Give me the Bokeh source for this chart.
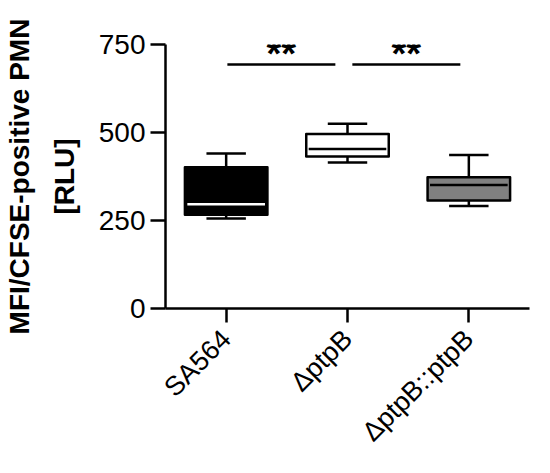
from math import pi
from bokeh.plotting import figure
from bokeh.models import Range1d, FixedTicker, ColumnDataSource
from bokeh.embed import file_html
from bokeh.resources import INLINE

categories = ["SA564", "ΔptpB", "ΔptpB::ptpB"]
whisker_low = [256, 415, 291]
q1 = [266, 432, 307]
median = [296, 453, 351]
q3 = [401, 496, 373]
whisker_high = [440, 525, 436]
box_colors = ["#000000", "#ffffff", "#808080"]
median_colors = ["#ffffff", "#000000", "#000000"]

# significance brackets: (start, end) in category index units, height, label
sig_x0 = [0.01, 1.04]
sig_x1 = [0.90, 1.93]
sig_y = [693, 693]
sig_label = ["**", "**"]
sig_label_x = [0.455, 1.485]
sig_label_y = [722, 722]

yticks = [0, 250, 500, 750]

xs = list(range(len(categories)))

p = figure(width=534, height=462, output_backend="svg", toolbar_location=None,
           x_range=Range1d(-0.5, 2.5), y_range=Range1d(0, 750),
           min_border_left=156, min_border_right=5, min_border_top=44,
           min_border_bottom=154)
p.outline_line_color = None
p.xgrid.visible = False
p.ygrid.visible = False
p.background_fill_color = "white"
p.border_fill_color = "white"

FONT = "Liberation Sans"

# Y axis
p.yaxis.ticker = FixedTicker(ticks=yticks)
p.yaxis.axis_line_width = 2.5
p.yaxis.major_tick_line_width = 2.5
p.yaxis.major_tick_out = 15
p.yaxis.major_tick_in = 0
p.yaxis.minor_tick_line_color = None
p.yaxis.major_label_text_font = FONT
p.yaxis.major_label_text_font_size = "28px"
p.yaxis.major_label_text_color = "black"
p.yaxis.major_label_standoff = 5
p.yaxis.axis_label = "MFI/CFSE-positive PMN\n[RLU]"
p.yaxis.axis_label_text_font = FONT
p.yaxis.axis_label_text_font_size = "28px"
p.yaxis.axis_label_text_font_style = "bold"
p.yaxis.axis_label_text_color = "black"
p.yaxis.axis_label_text_line_height = 1.45
p.yaxis.axis_label_standoff = 16

# X axis
p.xaxis.ticker = FixedTicker(ticks=xs)
p.xaxis.major_label_overrides = {i: c for i, c in zip(xs, categories)}
p.xaxis.axis_line_width = 2.5
p.xaxis.major_tick_line_width = 2.5
p.xaxis.major_tick_out = 14
p.xaxis.major_tick_in = 0
p.xaxis.minor_tick_line_color = None
p.xaxis.major_label_orientation = pi / 4
p.xaxis.major_label_text_font = FONT
p.xaxis.major_label_text_font_size = "27px"
p.xaxis.major_label_text_color = "black"
p.xaxis.major_label_standoff = 12

box_w = 0.68
cap_w = 0.325

src = ColumnDataSource(dict(x=xs, lo=whisker_low, q1=q1, med=median, q3=q3,
                            hi=whisker_high, fill=box_colors, mc=median_colors,
                            cl=[x - cap_w / 2 for x in xs], cr=[x + cap_w / 2 for x in xs],
                            bl=[x - box_w / 2 + 0.02 for x in xs],
                            br=[x + box_w / 2 - 0.02 for x in xs]))

# whiskers
p.segment(x0="x", y0="q3", x1="x", y1="hi", source=src, line_color="black", line_width=2.5)
p.segment(x0="x", y0="q1", x1="x", y1="lo", source=src, line_color="black", line_width=2.5)
# caps
p.segment(x0="cl", y0="hi", x1="cr", y1="hi", source=src, line_color="black", line_width=2.5)
p.segment(x0="cl", y0="lo", x1="cr", y1="lo", source=src, line_color="black", line_width=2.5)
# boxes
p.vbar(x="x", width=box_w, bottom="q1", top="q3", source=src, fill_color="fill",
       line_color="black", line_width=2.5, line_join="round")
# medians
p.segment(x0="bl", y0="med", x1="br", y1="med", source=src, line_color="mc", line_width=2.5)

# significance
p.segment(x0=sig_x0, y0=sig_y, x1=sig_x1, y1=sig_y, line_color="black", line_width=2.5)
p.text(x=sig_label_x, y=sig_label_y, text=sig_label, text_align="center",
       text_baseline="middle", text_font={"value": FONT}, text_font_size={"value": "38px"},
       text_font_style="bold", text_color="black")

open("out.html", "w").write(file_html(p, INLINE))
